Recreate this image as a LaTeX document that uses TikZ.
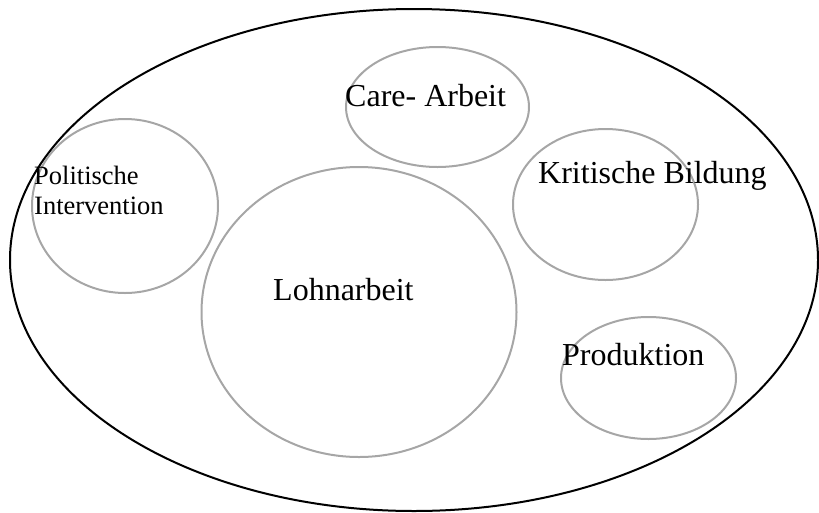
\documentclass[tikz,border=0pt]{standalone}
\usepackage{fontspec}
\setmainfont{Liberation Serif}
\definecolor{ring}{RGB}{166,166,166}
\begin{document}
\begin{tikzpicture}[x=1pt,y=-1pt]
\tikzstyle{every node}+=[inner sep=0pt,anchor=base west,font=\fontsize{32}{38}\selectfont]
\useasboundingbox (0,0) rectangle (819,512);
\draw [black,line width=2pt] (414,260) ellipse (404 and 251);
\draw [ring,line width=2pt] (125,206) ellipse (93 and 87);
\draw (34,166) node (polit) [anchor=north west,align=left,font=\fontsize{26.5}{30}\selectfont] {Politische\\Intervention};
\draw [ring,line width=2pt] (437.5,107) ellipse (91.5 and 60);
\draw (345,106) node (care) {Care- Arbeit};
\draw [ring,line width=2pt] (605.5,204.5) ellipse (92.5 and 75.5);
\draw (538,183) node (bildung) {Kritische Bildung};
\draw [ring,line width=2pt] (359,312) ellipse (157.5 and 145);
\draw (273,300) node (lohn) {Lohnarbeit};
\draw [ring,line width=2pt] (648.5,378) ellipse (87.5 and 61);
\draw (562,365) node (prod) {Produktion};
\end{tikzpicture}
\end{document}
